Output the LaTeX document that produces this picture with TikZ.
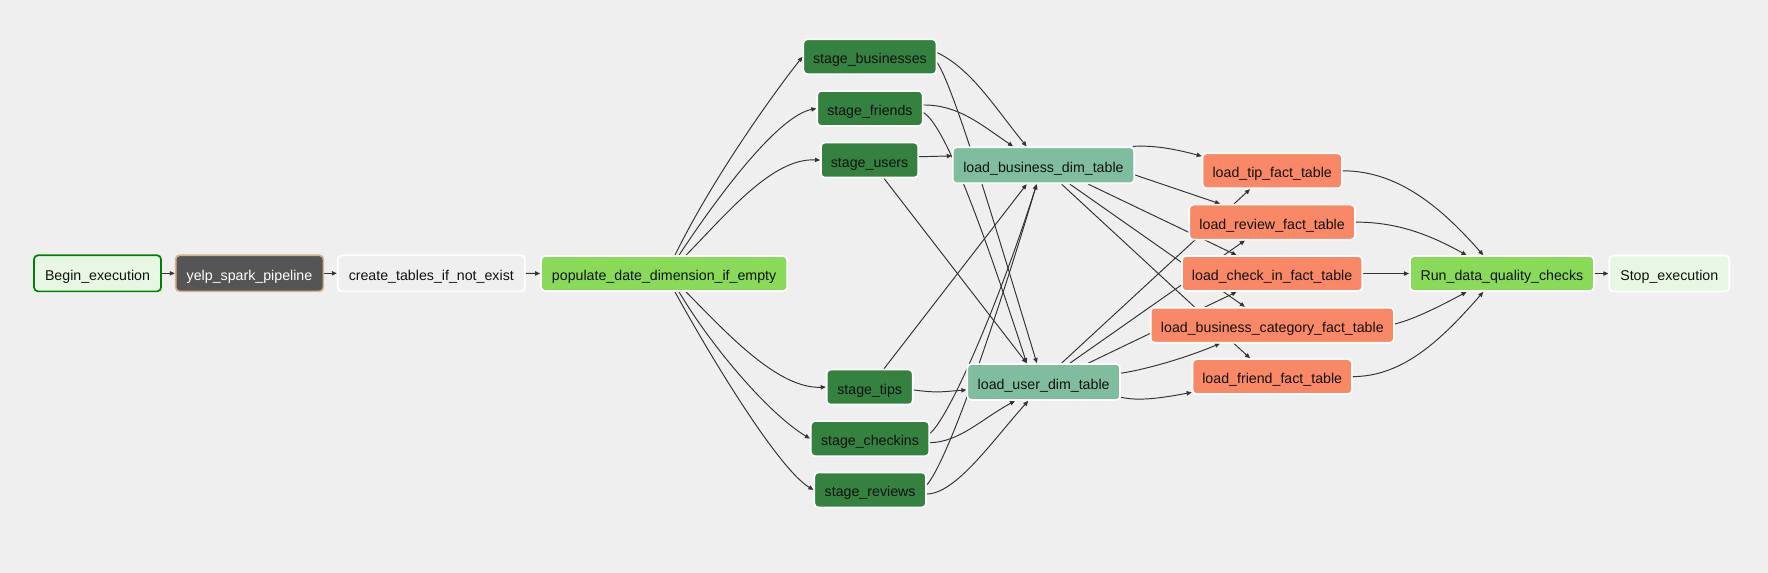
\documentclass[tikz,border=0pt]{standalone}
\usepackage{fontspec}
\setmainfont{Liberation Sans}
\usetikzlibrary{arrows.meta,backgrounds}
\newcommand\taskfont{\fontsize{12.6}{15}\selectfont}
\definecolor{bgc}{HTML}{EFEFEF}
\definecolor{edgec}{HTML}{333333}
\definecolor{dummyc}{HTML}{E8F7E4}
\definecolor{okgreen}{HTML}{008000}
\definecolor{sparkc}{HTML}{555555}
\definecolor{tanc}{HTML}{D2B48C}
\definecolor{stagec}{HTML}{358140}
\definecolor{dimc}{HTML}{80BD9E}
\definecolor{factc}{HTML}{F98866}
\definecolor{dqc}{HTML}{89DA59}
\definecolor{txtc}{HTML}{111111}
\tikzset{
  task/.style={rectangle, rounded corners=3.5pt, draw=white, line width=1.5pt,
    minimum height=31pt, inner sep=0pt, font=\taskfont, text=txtc,
    text height=12.4pt, text depth=0pt},
  stagebox/.style={task, fill=stagec, minimum height=31pt},
  dimbox/.style={task, fill=dimc, minimum height=32pt},
  factbox/.style={task, fill=factc},
  edge/.style={draw=edgec, line width=0.85pt, -{Triangle[length=4.5pt,width=3.8pt]}},
}
\begin{document}
\begin{tikzpicture}[x=1pt,y=-1pt]
\begin{pgfonlayer}{background}
\fill[bgc] (0,0) rectangle (1568,508.18);
\end{pgfonlayer}
\useasboundingbox (0,0) rectangle (1568,508.18);

% nodes
\node[task, fill=dummyc, draw=okgreen, minimum width=112.6pt, minimum height=32pt] (begin) at (86.5,242.4) {Begin\_execution};
\node[task, fill=sparkc, draw=tanc, text=white, minimum width=131pt, minimum height=32pt] (yelp) at (221.3,242.4) {yelp\_spark\_pipeline};
\node[task, fill=bgc, minimum width=166pt, minimum height=32pt] (create) at (382.5,242.4) {create\_tables\_if\_not\_exist};
\node[task, fill=dqc, minimum width=218.4pt] (pop) at (589,242.6) {populate\_date\_dimension\_if\_empty};

\node[stagebox, minimum width=118pt] (stb) at (771.5,50.3) {stage\_businesses};
\node[stagebox, minimum width=93.5pt] (stf) at (771.5,96.2) {stage\_friends};
\node[stagebox, minimum width=86.3pt] (stu) at (771.2,142) {stage\_users};
\node[stagebox, minimum width=76.3pt] (stt) at (771.3,343.3) {stage\_tips};
\node[stagebox, minimum width=105pt] (stc) at (771.6,389) {stage\_checkins};
\node[stagebox, minimum width=99pt] (str) at (771.7,434.5) {stage\_reviews};

\node[dimbox, minimum width=161pt] (bd) at (925.4,146.6) {load\_business\_dim\_table};
\node[dimbox, minimum width=135.5pt] (ud) at (925.6,338.8) {load\_user\_dim\_table};

\node[factbox, minimum width=123.5pt] (tip) at (1128.3,151.5) {load\_tip\_fact\_table};
\node[factbox, minimum width=147pt] (rev) at (1128.2,197) {load\_review\_fact\_table};
\node[factbox, minimum width=160pt] (chk) at (1128.2,242.6) {load\_check\_in\_fact\_table};
\node[factbox, minimum width=215.8pt] (cat) at (1128.4,288.4) {load\_business\_category\_fact\_table};
\node[factbox, minimum width=141.3pt] (fri) at (1128.3,334) {load\_friend\_fact\_table};

\node[task, fill=dqc, minimum width=163.2pt] (run) at (1332,242.6) {Run\_data\_quality\_checks};
\node[task, fill=dummyc, minimum width=106.4pt, minimum height=32pt] (stop) at (1480.4,242.6) {Stop\_execution};

% edges
\begin{pgfonlayer}{background}
\draw[edge] (begin.east) -- (yelp.west);
\draw[edge] (yelp.east) -- (create.west);
\draw[edge] (create.east) -- (pop.west);

\draw[edge] ([xshift=9.6pt]pop.north) .. controls (630,162) and (682,88) .. (stb.west);
\draw[edge] ([xshift=13.2pt]pop.north) .. controls (638,172) and (690,103) .. (stf.west);
\draw[edge] ([xshift=19.4pt]pop.north) .. controls (645,189) and (685,140) .. (stu.west);
\draw[edge] ([xshift=19.4pt]pop.south) .. controls (645,296) and (690,345) .. (stt.west);
\draw[edge] ([xshift=13.2pt]pop.south) .. controls (632,309) and (682.7,367.7) .. (stc.west);
\draw[edge] ([xshift=9.6pt]pop.south) .. controls (631.6,319) and (690.7,416) .. (str.west);

\draw[edge] ([yshift=3.6pt]stb.east) .. controls (862,61.7) and (881.5,94.5) .. ([xshift=-14.9pt]bd.north);
\draw[edge] ([yshift=-5.3pt]stb.east) .. controls (847.8,80.6) and (891.5,230.7) .. ([xshift=-6pt]ud.north);
\draw[edge] ([yshift=3.1pt]stf.east) .. controls (849.7,93.1) and (868.6,109.5) .. ([xshift=-26.9pt]bd.north);
\draw[edge] ([yshift=-3.7pt]stf.east) .. controls (840,112) and (877.5,220.7) .. ([xshift=-15.1pt]ud.north);
\draw[edge] ([yshift=3pt]stu.east) -- ([yshift=8.3pt]bd.west);
\draw[edge] ([xshift=12.8pt]stu.south) -- ([xshift=-15.1pt]ud.north);
\draw[edge] ([xshift=12.7pt]stt.north) -- ([xshift=-14.9pt]bd.south);
\draw[edge] ([yshift=-2.5pt]stt.east) .. controls (833,349) and (838,347) .. ([yshift=-7.1pt]ud.west);
\draw[edge] ([yshift=4.7pt]stc.east) .. controls (841.2,370.8) and (884.2,274) .. ([xshift=-6pt]bd.south);
\draw[edge] ([yshift=-3.6pt]stc.east) .. controls (851,392) and (870,372) .. ([xshift=-25.5pt]ud.south);
\draw[edge] ([yshift=4.4pt]str.east) .. controls (840.7,408.5) and (883.4,284) .. ([xshift=-6pt]bd.south);
\draw[edge] ([yshift=-3.6pt]str.east) .. controls (847.7,438) and (880.4,390.6) .. ([xshift=-13.7pt]ud.south);

\draw[edge] ([xshift=-2pt]bd.north east) .. controls (1025,128.5) and (1045,133) .. ([yshift=13pt]tip.west);
\draw[edge] ([yshift=-8.6pt]bd.east) -- ([xshift=-46.2pt]rev.north);
\draw[edge] ([xshift=39.8pt]bd.south) -- ([xshift=-31.5pt]chk.north);
\draw[edge] ([xshift=23.5pt]bd.south) -- ([xshift=-24.3pt]cat.north);
\draw[edge] ([xshift=16.1pt]bd.south) -- ([xshift=-19.7pt]fri.north);
\draw[edge] ([xshift=15.9pt]ud.north) -- ([xshift=-19.7pt]tip.south);
\draw[edge] ([xshift=23.3pt]ud.north) -- ([xshift=-24.1pt]rev.south);
\draw[edge] ([xshift=39.6pt]ud.north) -- ([xshift=-31.5pt]chk.south);
\draw[edge] ([yshift=7.8pt]ud.east) .. controls (1020,327) and (1055,316) .. ([xshift=-46.4pt]cat.south);
\draw[edge] ([yshift=-13.5pt]ud.east) .. controls (1010,356) and (1030,353) .. ([yshift=-14pt]fri.west);

\draw[edge] (tip.east) .. controls (1241,151.4) and (1279.5,185.5) .. ([xshift=-16.5pt]run.north);
\draw[edge] (rev.east) .. controls (1235,197) and (1263.5,205.5) .. ([xshift=-31.3pt]run.north);
\draw[edge] (chk.east) -- (run.west);
\draw[edge] ([yshift=1.1pt]cat.east) .. controls (1255,283) and (1280,270) .. ([xshift=-31.3pt]run.south);
\draw[edge] (fri.east) .. controls (1245,334) and (1279.5,300) .. ([xshift=-16.5pt]run.south);
\draw[edge] (run.east) -- (stop.west);
\end{pgfonlayer}
\end{tikzpicture}
\end{document}
